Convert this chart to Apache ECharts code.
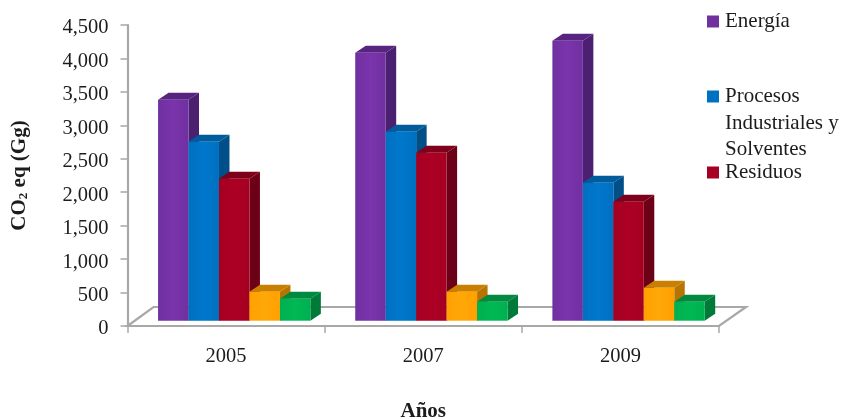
<!DOCTYPE html>
<html><head><meta charset="utf-8">
<style>html,body{margin:0;padding:0;background:#fff}#c{width:855px;height:419px}</style>
<script src="https://cdn.jsdelivr.net/npm/echarts@6/dist/echarts.min.js"></script>
</head><body><div id="c"></div>
<script>
const categories = ['2005','2007','2009'];
const energia   = [3304,4007,4186];
const procesos  = [2676,2826,2063];
const residuos  = [2123,2512,1779];
const serie4    = [434,434,493];
const serie5    = [329,284,284];
const yTicks = {min:0,max:4500,interval:500};
const FONT = '"Liberation Serif", serif';
const FS = 21, FST = 20.5, FSB = 21;
const TEXT = '#1c1c1c', AXIS = '#a8a8a8';
const fills = [
 {name:'Energía', v:energia, f:'#7030a0', hi:'#7a34ac', s:'#4b2070', t:'#57247f'},
 {name:'Procesos Industriales y Solventes', v:procesos, f:'#0070c0', hi:'#0078cc', s:'#004f88', t:'#005c9c'},
 {name:'Residuos', v:residuos, f:'#a50021', hi:'#ac0024', s:'#6c0016', t:'#7e001a'},
 {name:'Serie 4', v:serie4, f:'#ffa000', hi:'#ffa808', s:'#b87400', t:'#c98000'},
 {name:'Serie 5', v:serie5, f:'#00b050', hi:'#00b854', s:'#007a38', t:'#008a40'}
];
const DX=10.5, DY=7, LIFT=5.3, BAR=0.1545, OFF=0.155;
function barItem(si){
 const c=fills[si];
 return function(params,api){
  const idx=api.value(0), val=api.value(1);
  const band=api.size([1,0])[0];
  const w=band*BAR;
  const base=api.coord([idx,0]), top=api.coord([idx,val]);
  const x=base[0]-band/2+band*OFF+si*w;
  const y0=base[1]-LIFT, y1=top[1]-LIFT;
  return {type:'group',children:[
   {type:'polygon',shape:{points:[[x+w,y1],[x+w+DX,y1-DY],[x+w+DX,y0-DY],[x+w,y0]]},style:{fill:c.s}},
   {type:'polygon',shape:{points:[[x,y1],[x+DX,y1-DY],[x+w+DX,y1-DY],[x+w,y1]]},style:{fill:c.t}},
   {type:'rect',shape:{x:x,y:y1,width:w,height:y0-y1},style:{fill:new echarts.graphic.LinearGradient(0,0,1,0,[{offset:0,color:c.f},{offset:.5,color:c.hi},{offset:1,color:c.f}])}}
  ]};
 };
}
function floorItem(params,api){
 const r=params.coordSys; const b=r.y+r.height, l=r.x, rr=r.x+r.width;
 return {type:'polygon',shape:{points:[[l,b],[l+26,b-19],[rr+27,b-19],[rr,b]]},style:{fill:'#fff',stroke:AXIS,lineWidth:2.2}};
}
const legendBase={orient:'vertical',left:707,itemWidth:12,itemHeight:12,icon:'rect',itemGap:0,padding:0,
 textStyle:{fontFamily:FONT,fontSize:FS,color:TEXT,padding:[0,0,0,1]},selectedMode:false};
const option={
 animation:false,backgroundColor:'#fff',
 grid:{left:127.5,top:25,width:591.5,height:301,containLabel:false,outerBoundsMode:'none'},
 legend:[
  Object.assign({},legendBase,{top:11,data:['Energía']}),
  Object.assign({},legendBase,{top:86,data:['Procesos Industriales y Solventes'],formatter:()=>'Procesos'}),
  Object.assign({},legendBase,{top:162,data:['Residuos']})
 ],
 graphic:[
  {type:'text',left:725,top:110,style:{text:'Industriales y\nSolventes',font:FS+'px '+FONT,fill:TEXT,lineHeight:26}}
 ],
 xAxis:{type:'category',data:categories,boundaryGap:true,
  axisLine:{show:true,lineStyle:{color:AXIS,width:2.2}},
  axisTick:{show:true,length:7,lineStyle:{color:AXIS,width:1.5},alignWithLabel:false},
  axisLabel:{fontFamily:FONT,fontSize:FST,color:TEXT,margin:20},
  name:'Años',nameLocation:'middle',nameGap:75,
  nameTextStyle:{fontFamily:FONT,fontSize:FSB,fontWeight:'bold',color:TEXT},z:5},
 yAxis:{type:'value',min:yTicks.min,max:yTicks.max,interval:yTicks.interval,
  axisLine:{show:true,lineStyle:{color:AXIS,width:2.2}},
  axisTick:{show:true,length:7,lineStyle:{color:AXIS,width:1.5}},
  splitLine:{show:false},
  axisLabel:{color:TEXT,margin:19,formatter:v=>'{v|'+v.toLocaleString('en-US')+'}',
   rich:{v:{fontFamily:FONT,fontSize:FST,color:TEXT,padding:[6,0,0,0]}}},
  name:'{a|CO}{s|2}{a| eq (Gg)}',nameLocation:'middle',nameGap:97,nameRotate:90,
  nameTextStyle:{rich:{a:{fontFamily:FONT,fontSize:FSB,fontWeight:'bold',color:TEXT},
   s:{fontFamily:FONT,fontSize:13,fontWeight:'bold',color:TEXT,verticalAlign:'bottom',lineHeight:14}}}},
 series:[
  {type:'custom',name:'floor',silent:true,z:1,renderItem:floorItem,data:[[0,0]],encode:{x:0,y:1}},
  ...fills.map((c,si)=>({type:'custom',name:c.name,z:3+si,itemStyle:{color:c.f},
   renderItem:barItem(si),encode:{x:0,y:1},
   data:c.v.map((v,i)=>[i,v])}))
 ]
};
echarts.init(document.getElementById('c'),null,{renderer:'canvas'}).setOption(option);
</script></body></html>
